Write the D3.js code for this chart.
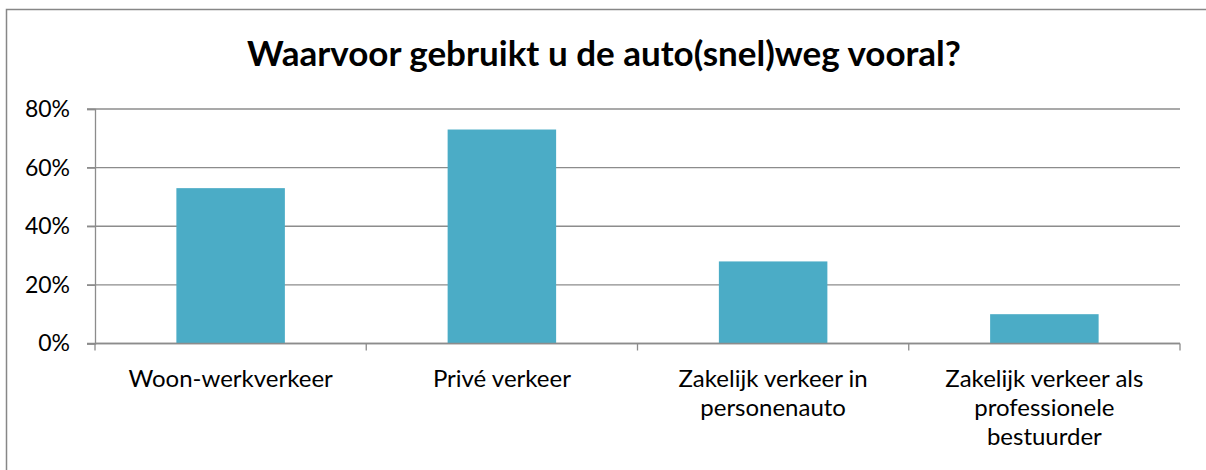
<!DOCTYPE html>
<html>
<head>
<meta charset="utf-8">
<script src="https://cdn.jsdelivr.net/npm/d3@7"></script>
<style>
  body { margin: 0; background: #fff; }
  svg { display: block; font-family: Lato, "Open Sans", sans-serif; }
</style>
</head>
<body>
<div id="chart"></div>
<script>
// data
var categories = ["Woon-werkverkeer", "Privé verkeer", "Zakelijk verkeer in personenauto", "Zakelijk verkeer als professionele bestuurder"];
var labelLines = [["Woon-werkverkeer"], ["Privé verkeer"], ["Zakelijk verkeer in", "personenauto"], ["Zakelijk verkeer als", "professionele", "bestuurder"]];
var values = [0.53, 0.73, 0.28, 0.10];
var yTicks = [0, 0.2, 0.4, 0.6, 0.8];

var width = 1206, height = 470;
var svg = d3.select("#chart").append("svg").attr("width", width).attr("height", height)

// chart border (left + top visible)
svg.append("rect")
  .attr("x", 6.5).attr("y", 9.5)
  .attr("width", 1300).attr("height", 600)
  .attr("fill", "none").attr("stroke", "#878787").attr("stroke-width", 1.5)

// title
svg.append("text")
  .attr("x", 604).attr("y", 66)
  .attr("text-anchor", "middle")
  .attr("font-size", "35px").attr("font-weight", "bold")
  .attr("fill", "#000")
  .text("Waarvoor gebruikt u de auto(snel)weg vooral?")

var x = d3.scaleBand().domain(categories).range([95, 1180]).paddingInner(0.6).paddingOuter(0.3)
var y = d3.scaleLinear().domain([0, 0.8]).range([343.5, 109])

// gridlines
svg.append("g").selectAll("line").data(yTicks).join("line")
  .attr("x1", 87).attr("x2", 1180)
  .attr("y1", d => y(d)).attr("y2", d => y(d))
  .attr("stroke", "#8c8c8c").attr("stroke-width", 1.3)

// y axis
var yAxis = svg.append("g").attr("transform", "translate(95,0)")
  .call(d3.axisLeft(y).tickValues(yTicks).tickFormat(d3.format(".0%")).tickSize(8))
yAxis.select(".domain").attr("stroke", "#8c8c8c").attr("stroke-width", 1.3)
yAxis.selectAll(".tick line").attr("stroke", "#8c8c8c").attr("stroke-width", 1.3)
yAxis.selectAll(".tick text").attr("font-size", "23px").attr("fill", "#000").attr("x", -25)
  .attr("font-family", "Lato, sans-serif")

// bars
svg.append("g").selectAll("rect").data(values).join("rect")
  .attr("x", (d, i) => x(categories[i]))
  .attr("width", x.bandwidth())
  .attr("y", d => y(d))
  .attr("height", d => y(0) - y(d))
  .attr("fill", "#4bacc6")

// x axis
var step = (1180 - 95) / categories.length
var bounds = d3.range(categories.length + 1).map(i => 95 + i * step)
svg.append("line").attr("x1", 95).attr("x2", 1180).attr("y1", y(0)).attr("y2", y(0))
  .attr("stroke", "#8c8c8c").attr("stroke-width", 1.3)
svg.append("g").selectAll("line").data(bounds).join("line")
  .attr("x1", d => d).attr("x2", d => d)
  .attr("y1", y(0)).attr("y2", y(0) + 7)
  .attr("stroke", "#8c8c8c").attr("stroke-width", 1.3)

// category labels
var lab = svg.append("g").selectAll("text").data(labelLines).join("text")
  .attr("text-anchor", "middle")
  .attr("font-size", "24px").attr("fill", "#000")
  .attr("transform", (d, i) => "translate(" + (x(categories[i]) + x.bandwidth() / 2) + ",387)")
lab.selectAll("tspan").data(d => d).join("tspan")
  .attr("x", 0).attr("y", (d, j) => j * 29)
  .text(d => d)
</script>
</body>
</html>
